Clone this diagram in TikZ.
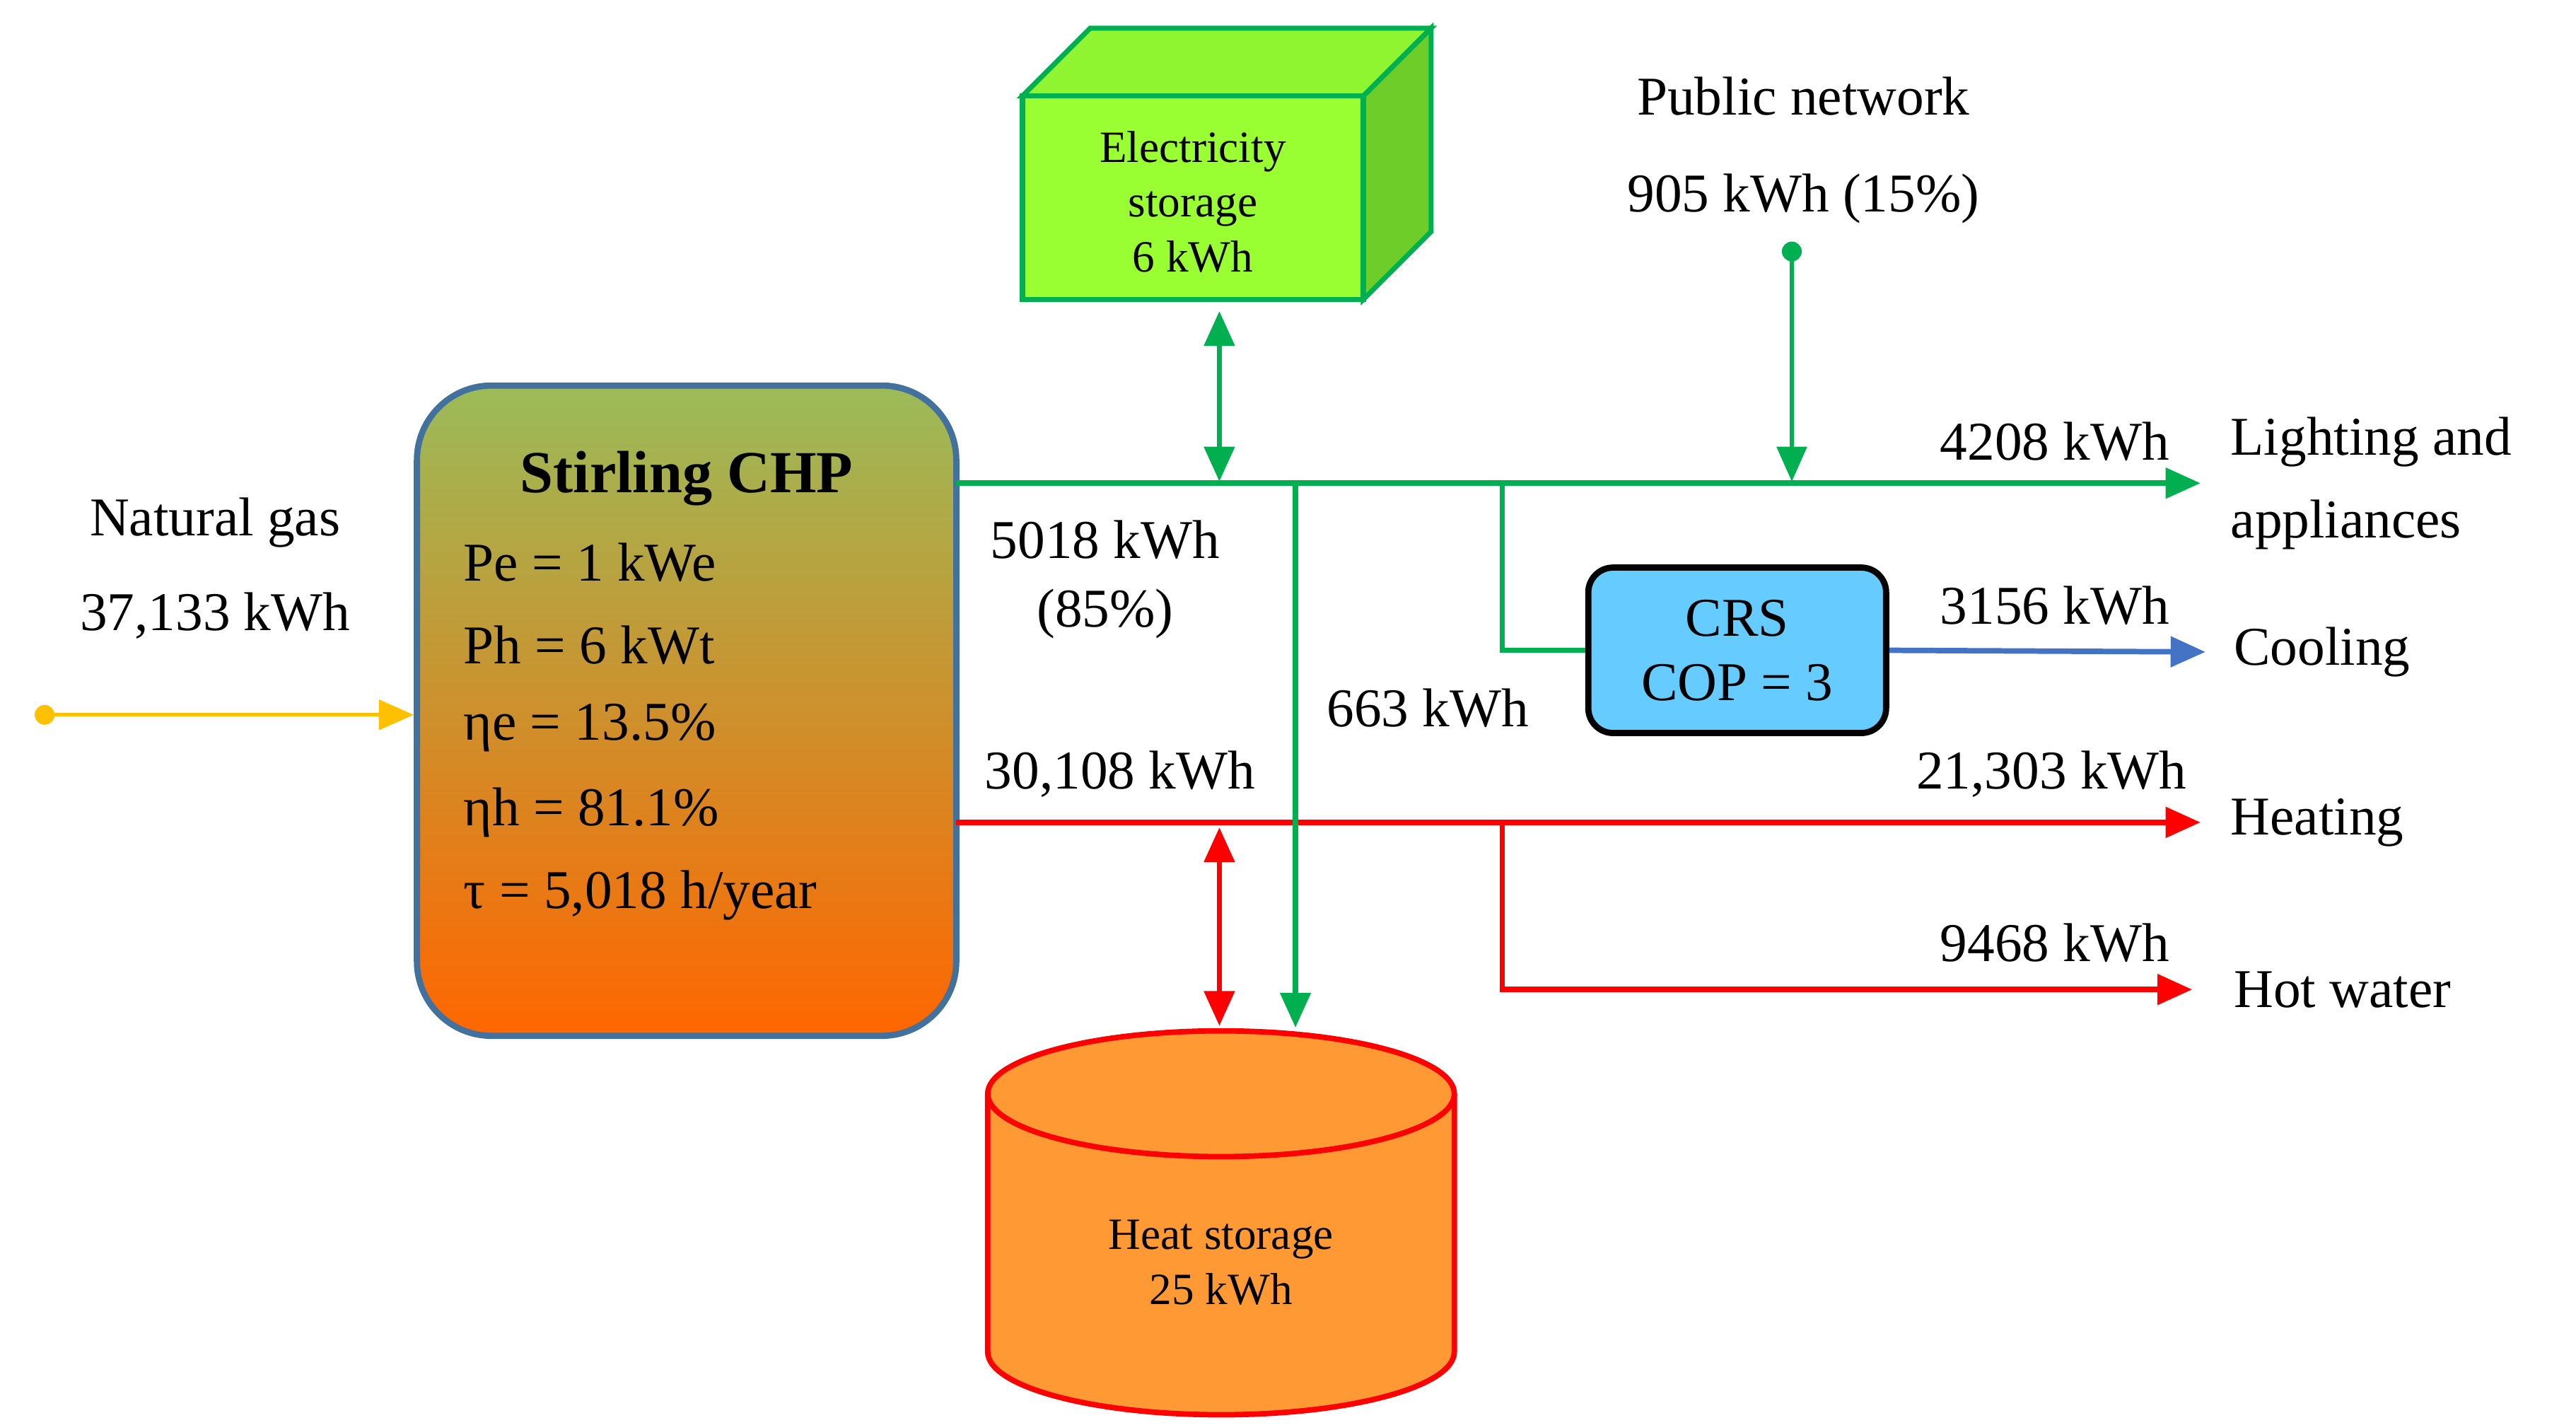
\documentclass[tikz,border=0pt]{standalone}
\usepackage{fontspec}
\setmainfont{Liberation Serif}
\usetikzlibrary{arrows.meta,shapes.geometric}
\definecolor{gr}{RGB}{0,176,80}
\definecolor{rd}{RGB}{255,0,0}
\definecolor{bl}{RGB}{68,114,196}
\definecolor{yl}{RGB}{255,192,0}
\definecolor{olive}{RGB}{155,187,89}
\definecolor{org}{RGB}{255,102,0}
\definecolor{chpb}{RGB}{65,113,156}
\definecolor{lg}{RGB}{153,255,51}
\definecolor{dg}{RGB}{110,205,40}
\definecolor{sky}{RGB}{102,204,255}
\definecolor{cyl}{RGB}{255,153,51}
\begin{document}
\begin{tikzpicture}[x=0.0234cm,y=-0.0234cm,
  lab/.style={font=\fontsize{22}{26}\selectfont,inner sep=0pt},
  small/.style={font=\fontsize{18}{22}\selectfont,inner sep=0pt,align=center},
  flow/.style={line width=2.2pt,-{Triangle[length=14pt,width=12pt]}},
  dbl/.style={line width=2.2pt,{Triangle[length=14pt,width=12pt]}-{Triangle[length=14pt,width=12pt]}},
  line/.style={line width=2.2pt}]
\useasboundingbox (0,0) rectangle (1557,861);
% CHP
\shade[top color=olive,bottom color=org,rounded corners=30pt] (252,233) rectangle (578,626);
\draw[chpb,line width=2.5pt,rounded corners=30pt] (252,233) rectangle (578,626);
\node[lab,font=\fontsize{24}{28}\selectfont\bfseries] (chp) at (415,289) {Stirling CHP};
\node[lab,anchor=west] (pe) at (280,340) {Pe = 1 kWe};
\node[lab,anchor=west] (ph) at (280,390) {Ph = 6 kWt};
\node[lab,anchor=west] (ee) at (280,440) {ηe = 13.5\%};
\node[lab,anchor=west] (eh) at (280,491) {ηh = 81.1\%};
\node[lab,anchor=west] (tau) at (280,541) {τ = 5,018 h/year};
\coordinate (chpL) at (250,432);
\coordinate (chpE) at (578,292);
\coordinate (chpH) at (578,497);
% natural gas
\node[lab] (ng1) at (130,316) {Natural gas};
\node[lab] (ng2) at (130,372) {37,133 kWh};
\coordinate (ngd) at (27,432);
\fill[yl] (ngd) circle (6);
\draw[yl,flow,line width=1.5pt] (ngd) -- (chpL);
% electricity storage cube
\draw[gr,line width=2pt,fill=dg] (824,58) -- (865,17) -- (865,140) -- (824,181) -- cycle;
\draw[gr,line width=2pt,fill=lg!80!dg] (618,58) -- (659,17) -- (865,17) -- (824,58) -- cycle;
\draw[gr,line width=2pt,fill=lg] (618,58) rectangle (824,181);
\node[small] (es) at (721,122) {Electricity\\storage\\6 kWh};
\coordinate (esB) at (737,188);
% main electric line
\coordinate (la) at (1330,292);
\draw[gr,flow] (chpE) -- (la);
\draw[gr,dbl] (esB) -- (737,291);
% public network
\node[lab] (pn1) at (1090,58) {Public network};
\node[lab] (pn2) at (1090,120) {905 kWh (15\%)};
\coordinate (pnd) at (1083,152);
\fill[gr] (pnd) circle (6);
\draw[gr,flow,line width=1.5pt] (pnd) -- (1083,291);
% CRS
\node[draw=black,line width=2.5pt,fill=sky,rounded corners=10pt,minimum width=180*0.0234cm,minimum height=100*0.0234cm,align=center,font=\fontsize{22}{26}\selectfont] (crs) at (1050,393) {CRS\\COP = 3};
\draw[gr,line width=1.8pt] (908,292) |- (crs.west);
\coordinate (co) at (1333,394);
\draw[bl,flow] (crs.east) -- (co);
% heat
\coordinate (he) at (1330,497);
\draw[rd,flow] (chpH) -- (he);
\coordinate (hw) at (1325,598);
\draw[rd,flow] (908,497) |- (hw);
% heat storage cylinder
\draw[rd,line width=2.2pt,fill=cyl] (597,661) -- (597,817) arc[start angle=180,end angle=360,x radius=141,y radius=-38] -- (879,661);
\draw[rd,line width=2.2pt,fill=cyl] (738,661) ellipse [x radius=141*0.0234cm,y radius=38*0.0234cm];
\node[small] (hs) at (738,763) {Heat storage\\25 kWh};
\draw[rd,dbl] (737,500) -- (737,620);
\draw[gr,flow] (783,292) -- (783,621);
% labels
\node[lab] (l1) at (668,326) {5018 kWh};
\node[lab] (l2) at (668,371) {(85\%)};
\node[lab] (l3) at (863,428) {663 kWh};
\node[lab] (l4) at (1242,267) {4208 kWh};
\node[lab] (l5) at (1242,366) {3156 kWh};
\node[lab] (l6) at (677,468) {30,108 kWh};
\node[lab] (l7) at (1240,468) {21,303 kWh};
\node[lab] (l8) at (1242,570) {9468 kWh};
\node[lab,anchor=west] (r1) at (1348,267) {Lighting and};
\node[lab,anchor=west] (r2) at (1348,317) {appliances};
\node[lab,anchor=west] (r3) at (1350,394) {Cooling};
\node[lab,anchor=west] (r4) at (1348,497) {Heating};
\node[lab,anchor=west] (r5) at (1350,598) {Hot water};
\end{tikzpicture}
\end{document}
